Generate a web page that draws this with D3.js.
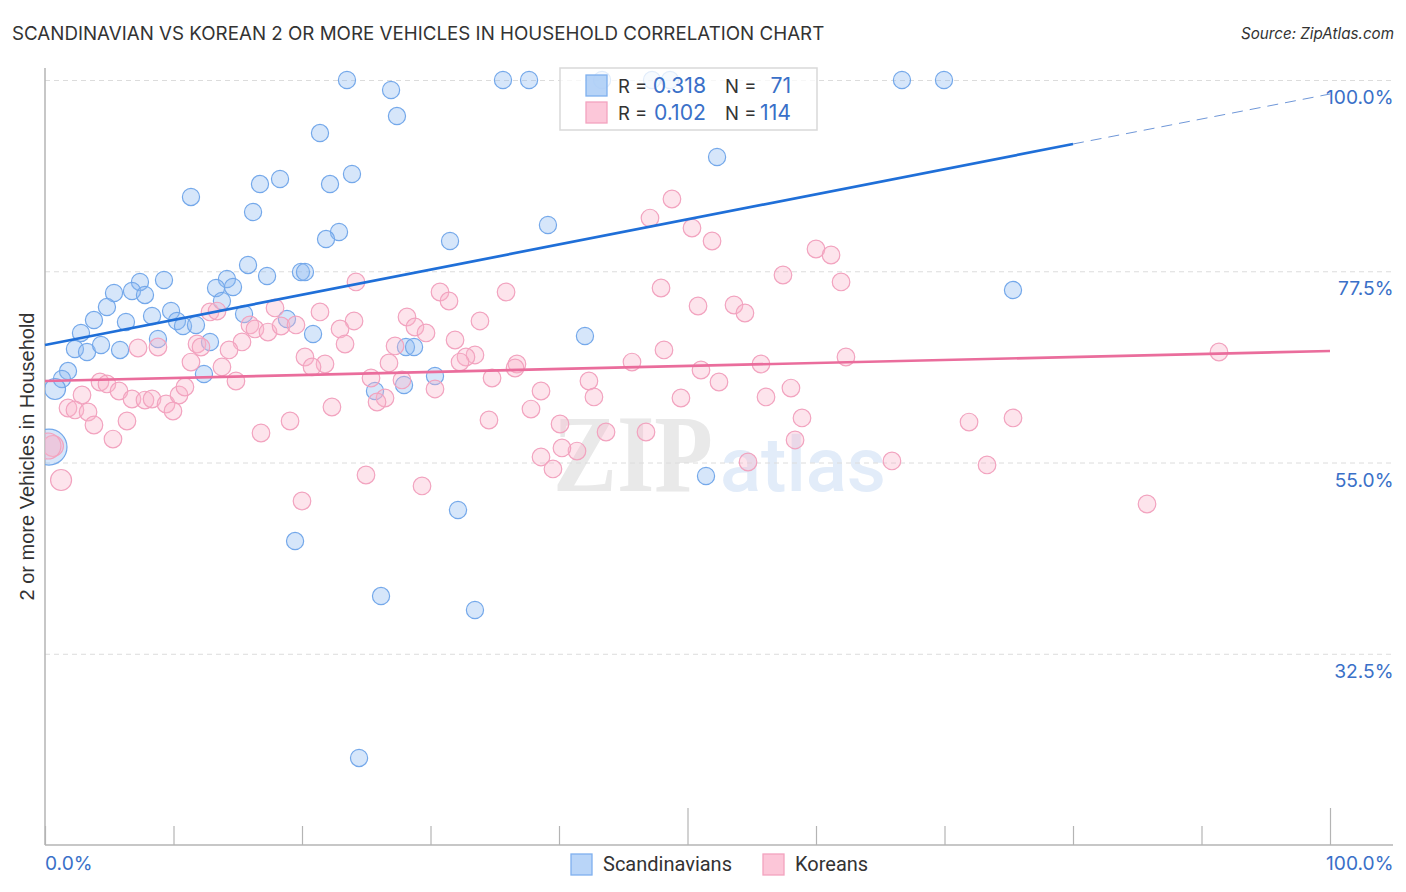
<!DOCTYPE html>
<meta charset="utf-8">
<style>

body {
  margin: 0;
  background: #fff;
}

text {
  font-family: Inter, sans-serif;
}

.grid line {
  stroke: #dcdcdc;
  stroke-dasharray: 5,4;
}

.axis line, .axis path {
  stroke: #b4b4b4;
  stroke-width: 1.2;
  fill: none;
}

.blue-dot {
  fill: #8dbaf2;
  fill-opacity: .36;
  stroke: #74a8ea;
  stroke-width: 1.2;
}

.pink-dot {
  fill: #fab4ca;
  fill-opacity: .36;
  stroke: #f2a3bf;
  stroke-width: 1.2;
}

.val {
  fill: #3a70c8;
}

.lab {
  fill: #333;
}

</style>
<svg width="1406" height="892"></svg>
<script src="https://d3js.org/d3.v7.min.js"></script>
<script>

var xTicks = [0, 10, 20, 30, 40, 50, 60, 70, 80, 90, 100];
var xMajorTicks = [50, 100];
var yTicks = [100, 77.5, 55, 32.5];

// percent values: [x, y]
var scandinavians = [
  [23.50,100],[26.93,98.82],[27.39,95.76],[21.40,93.76],[35.64,100],[37.67,100],[43.35,100],[47.24,100],[48.64,100],[66.69,100],[69.96,100],
  [52.30,90.94],[23.89,88.94],[18.29,88.35],[16.73,87.76],[22.18,87.76],[11.36,86.24],[16.19,84.47],[39.14,82.94],[22.88,82.12],[21.87,81.29],[31.52,81.06],
  [15.80,78.24],[17.28,76.94],[19.92,77.41],[20.23,77.41],[9.26,76.47],[14.16,76.59],[7.39,76.24],[13.31,75.53],[14.63,75.65],[6.77,75.18],[5.37,74.94],[7.78,74.71],[13.77,74.00],[4.82,73.29],[75.33,75.29],
  [9.81,72.82],[3.81,71.76],[6.30,71.53],[8.33,72.24],[15.49,72.47],[10.27,71.65],[10.74,71.06],[11.75,71.18],[18.83,71.88],[20.86,70.12],[2.80,70.24],[8.79,69.53],[12.84,69.18],[2.33,68.35],[3.27,68.00],[4.36,68.82],[5.84,68.24],
  [1.79,65.76],[1.32,64.82],[12.37,65.41],
  [42.02,69.88],[28.09,68.59],[28.72,68.59],[30.35,65.18],[25.68,63.41],[27.94,64.12],[51.44,53.41],[32.14,49.41],[19.46,45.76],[26.15,39.29],[33.46,37.65],[24.44,20.24]
];
var scandinaviansMedium = [[0.78,63.65]];
var scandinaviansLarge = [[0.31,56.82]];

var koreans = [
  [24.20,76.24],[17.90,73.18],[21.40,72.71],[12.84,72.71],[13.39,72.82],[24.05,71.65],[15.95,71.18],[16.34,70.71],[17.35,70.35],[18.37,71.06],[19.53,71.18],[22.96,70.71],[23.35,68.94],[15.33,69.18],[11.83,68.94],[12.14,68.59],[14.32,68.24],[20.23,67.41],[21.79,66.59],[7.24,68.47],[8.79,68.59],[11.36,66.82],[13.77,66.24],[14.86,64.59],
  [4.28,64.47],[4.82,64.24],[5.76,63.41],[6.77,62.47],[7.78,62.35],[8.33,62.47],[9.42,61.88],[10.43,62.94],[10.89,63.88],[9.96,61.06],[2.88,62.94],[1.79,61.41],[2.33,61.18],[3.35,60.94],[3.81,59.41],[6.38,59.88],[5.29,57.76],[16.81,58.47],[19.07,59.88],[20.00,50.47],
  [30.74,75.06],[31.44,74.00],[35.88,75.06],[28.17,72.12],[28.79,70.94],[29.65,70.24],[33.85,71.65],[31.91,69.41],[27.24,68.71],[26.77,66.71],[20.78,66.24],[33.46,67.65],[32.76,67.41],[32.30,66.82],[36.73,66.59],[36.58,66.12],[34.79,64.94],[25.37,64.94],[27.78,64.71],[30.35,63.65],[26.46,62.59],[25.84,62.12],[38.60,63.41],[37.82,61.29],[34.55,60.00],[22.33,61.53],[38.60,55.65],[39.53,54.24],[24.98,53.53],[29.34,52.24],
  [48.79,86.00],[47.08,83.76],[50.35,82.59],[51.91,81.06],[60.00,80.12],[61.17,79.41],[57.43,77.06],[61.95,76.24],[47.94,75.53],[50.82,73.41],[53.62,73.53],[54.47,72.59],[48.17,68.24],[45.68,66.82],[51.05,65.88],[55.72,66.59],[62.33,67.41],[91.36,68.00],[52.45,64.47],[42.33,64.59],[42.72,62.71],[49.49,62.59],[56.11,62.71],[58.05,63.76],[58.91,60.24],[58.37,57.65],[71.91,59.76],[75.33,60.24],[73.31,54.71],[65.91,55.18],[54.71,55.06],[85.76,50.12],[46.77,58.59],[43.66,58.59],[40.08,59.53],[41.40,56.35],[40.23,56.71]
];
var koreansMedium = [[1.25,52.94],[0.62,56.94]];
var koreansLarge = [[0.23,56.94]];

var blueTrendSolid = [[0, 68.82], [80, 92.47]];
var blueTrendDashed = [[80, 92.47], [100, 98.35]];
var pinkTrend = [[0, 64.59], [100, 68.12]];

var svg = d3.select("svg");

var x = d3.scaleLinear().domain([0, 100]).range([45, 1330]);
var y = d3.scaleLinear().domain([10, 100]).range([845, 80]);

var line = d3.line()
    .x(function(d) { return x(d[0]); })
    .y(function(d) { return y(d[1]); });

// title
svg.append("text").attr("class", "lab")
    .attr("x", 12).attr("y", 39.5)
    .style("font-size", "18.75px")
    .text("SCANDINAVIAN VS KOREAN 2 OR MORE VEHICLES IN HOUSEHOLD CORRELATION CHART");

svg.append("text").attr("class", "lab")
    .attr("x", 1394).attr("y", 39)
    .attr("text-anchor", "end")
    .style("font-size", "15.2px")
    .style("font-style", "italic")
    .text("Source: ZipAtlas.com");

// watermark sits under everything
svg.append("text")
    .attr("x", 553).attr("y", 491)
    .attr("textLength", 160).attr("lengthAdjust", "spacingAndGlyphs")
    .style("font", "bold 110px 'Liberation Serif', serif")
    .style("fill", "#e9e9e9")
    .text("ZIP");

svg.append("text")
    .attr("x", 720).attr("y", 491)
    .attr("textLength", 166).attr("lengthAdjust", "spacingAndGlyphs")
    .style("font", "500 76px Roboto, sans-serif")
    .style("fill", "#e2ecf9")
    .text("atlas");

// gridlines
svg.append("g").attr("class", "grid")
    .attr("transform", "translate(45,0)")
    .call(d3.axisRight(y).tickValues(yTicks).tickSize(1348).tickFormat(""))
    .call(function(g) { g.select(".domain").remove(); });

// axes
var bottom = svg.append("g").attr("class", "axis")
    .attr("transform", "translate(0,845)")
    .call(d3.axisTop(x).tickValues(xTicks).tickSize(19).tickFormat("").tickSizeOuter(0));
bottom.select(".domain").attr("d", "M45,0H1393").style("stroke-width", 1.5);
bottom.selectAll(".tick line")
    .filter(function(d) { return xMajorTicks.indexOf(d) >= 0; })
    .attr("y2", -37);

svg.append("line")
    .attr("x1", 45).attr("x2", 45).attr("y1", 68).attr("y2", 845)
    .style("stroke", "#b4b4b4").style("stroke-width", 1.5);

// points, cut off at the left axis
svg.append("clipPath").attr("id", "plot")
  .append("rect").attr("x", 45).attr("y", 60).attr("width", 1350).attr("height", 785);

var dots = svg.append("g").attr("clip-path", "url(#plot)");

function drawDots(data, cls, r) {
  dots.append("g").selectAll("circle")
    .data(data)
    .enter().append("circle")
      .attr("class", cls)
      .attr("cx", function(d) { return x(d[0]); })
      .attr("cy", function(d) { return y(d[1]); })
      .attr("r", r);
}

drawDots(scandinavians, "blue-dot", 8.6);
drawDots(scandinaviansMedium, "blue-dot", 10.5);
drawDots(scandinaviansLarge, "blue-dot", 18);
drawDots(koreans, "pink-dot", 8.8);
drawDots(koreansMedium, "pink-dot", 10.5);
drawDots(koreansLarge, "pink-dot", 13);

// trend lines
svg.append("path").datum(blueTrendSolid)
    .attr("d", line).style("fill", "none").style("stroke", "#1f6fd8").style("stroke-width", 2.7);
svg.append("path").datum(blueTrendDashed)
    .attr("d", line).style("fill", "none").style("stroke", "#6f97d8").style("stroke-width", 1).style("stroke-dasharray", "11,7");
svg.append("path").datum(pinkTrend)
    .attr("d", line).style("fill", "none").style("stroke", "#ea6d9c").style("stroke-width", 2.7);

// tick labels
svg.selectAll(".ylab")
    .data(yTicks)
    .enter().append("text")
      .attr("class", "ylab val")
      .attr("x", 1393.5)
      .attr("y", function(d) { return y(d) + 24; })
      .attr("text-anchor", "end")
      .style("font-size", "19.2px")
      .text(function(d) { return d.toFixed(1) + "%"; });

svg.append("text").attr("class", "val")
    .attr("x", 45).attr("y", 870)
    .style("font-size", "19.2px")
    .text("0.0%");

svg.append("text").attr("class", "val")
    .attr("x", 1393.5).attr("y", 870)
    .attr("text-anchor", "end")
    .style("font-size", "19.2px")
    .text("100.0%");

svg.append("text").attr("class", "lab")
    .attr("transform", "translate(34,456.5) rotate(-90)")
    .attr("text-anchor", "middle")
    .style("font", "20px 'Liberation Sans', sans-serif")
    .text("2 or more Vehicles in Household");

// top legend
var legend = svg.append("g");

legend.append("rect")
    .attr("x", 560).attr("y", 68).attr("width", 257).attr("height", 62)
    .style("fill", "#fff").style("fill-opacity", .78)
    .style("stroke", "#d9d9d9").style("stroke-width", 1.5);

var legendRows = [
  {r: "0.318", n: "71", fill: "#a9cbf6", stroke: "#7fb0ee", top: 75, base: 93},
  {r: "0.102", n: "114", fill: "#fbbdd2", stroke: "#f3a3bf", top: 102, base: 120}
];

legendRows.forEach(function(d) {
  legend.append("rect")
      .attr("x", 586).attr("y", d.top).attr("width", 21).attr("height", 21)
      .style("fill", d.fill).style("fill-opacity", .85)
      .style("stroke", d.stroke).style("stroke-width", 1.3);
  legend.append("text").attr("class", "lab").attr("x", 618).attr("y", d.base).style("font-size", "18.5px").text("R =");
  legend.append("text").attr("class", "val").attr("x", 706).attr("y", d.base).attr("text-anchor", "end").style("font-size", "21.2px").text(d.r);
  legend.append("text").attr("class", "lab").attr("x", 725).attr("y", d.base).style("font-size", "18.5px").text("N =");
  legend.append("text").attr("class", "val").attr("x", 791).attr("y", d.base).attr("text-anchor", "end").style("font-size", "21.2px").text(d.n);
});

// bottom legend
var bottomLegend = [
  {name: "Scandinavians", fill: "#b9d5f8", stroke: "#7fb0ee", x: 571},
  {name: "Koreans", fill: "#fcc6d8", stroke: "#f3a3bf", x: 763}
];

bottomLegend.forEach(function(d) {
  svg.append("rect")
      .attr("x", d.x).attr("y", 854).attr("width", 21).attr("height", 21)
      .style("fill", d.fill).style("stroke", d.stroke).style("stroke-width", 1.3);
  svg.append("text").attr("class", "lab")
      .attr("x", d.x + 32).attr("y", 871)
      .style("font", "20px Roboto, sans-serif")
      .text(d.name);
});

</script>
